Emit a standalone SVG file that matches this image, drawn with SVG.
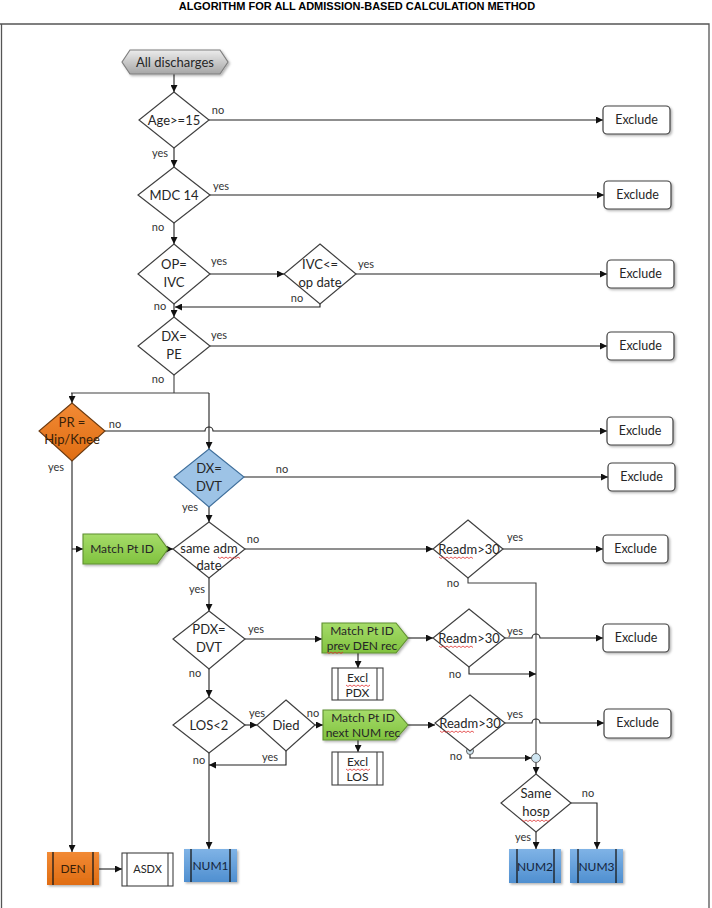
<svg xmlns="http://www.w3.org/2000/svg" width="712" height="908" viewBox="0 0 712 908">
<style>
text{font-family:Lato,"Open Sans","Liberation Sans",sans-serif;fill:#262626}
.t{font-size:13px;text-anchor:middle}
.e{font-size:12.5px;text-anchor:middle}
.m{font-size:12px;text-anchor:middle}
.lb{font-size:11px;text-anchor:middle;fill:#333}
.title{font-family:"Liberation Sans",Arial,sans-serif;font-size:11px;font-weight:bold;text-anchor:middle;fill:#000}
.dia{fill:#fff;stroke:#404040;stroke-width:1.2}
.ex{fill:#fff;stroke:#404040;stroke-width:1.2;filter:url(#sh)}
.ln{fill:none;stroke:#404040;stroke-width:1.1}
.ar{fill:none;stroke:#202020;stroke-width:1.1;marker-end:url(#ah)}
.bar{stroke:#1a1a1a;stroke-width:1.3}
.pr{fill:#fff;stroke:#404040;stroke-width:1.1}
.sq{fill:none;stroke:#e03030;stroke-width:0.8}
</style>
<defs>
<marker id="ah" viewBox="0 0 8 8" refX="8" refY="4" markerWidth="7" markerHeight="7" markerUnits="userSpaceOnUse" orient="auto">
<path d="M0,0 L8,4 L0,8 z" fill="#111"/>
</marker>
<filter id="sh" x="-20%" y="-20%" width="150%" height="160%">
<feDropShadow dx="1.5" dy="1.5" stdDeviation="1.2" flood-color="#000" flood-opacity="0.3"/>
</filter>
<linearGradient id="gGray" x1="0" y1="0" x2="0" y2="1">
<stop offset="0" stop-color="#ececec"/><stop offset="1" stop-color="#a6a6a6"/>
</linearGradient>
<linearGradient id="gGreen" x1="0" y1="0" x2="0" y2="1">
<stop offset="0" stop-color="#a6dc6a"/><stop offset="1" stop-color="#80c23e"/>
</linearGradient>
<linearGradient id="gOrange" x1="0" y1="0" x2="0" y2="1">
<stop offset="0" stop-color="#f28a35"/><stop offset="1" stop-color="#e06d12"/>
</linearGradient>
<linearGradient id="gBlue" x1="0" y1="0" x2="0" y2="1">
<stop offset="0" stop-color="#7fb3e6"/><stop offset="1" stop-color="#4f8fd0"/>
</linearGradient>
</defs>

<text class="title" x="357" y="10">ALGORITHM  FOR ALL ADMISSION-BASED CALCULATION METHOD</text>
<path d="M0,24 H709 V908 M1.5,24 V908" fill="none" stroke="#555" stroke-width="1.3"/>

<g id="connectors">
<path class="ar" d="M174,74 V92"/>
<path class="ar" d="M209,120 H603"/>
<path class="ar" d="M174,148 V167"/>
<path class="ar" d="M210,195 H604"/>
<path class="ar" d="M174,223 V244"/>
<path class="ar" d="M210,274 H284"/>
<path class="ar" d="M356,274 H607"/>
<path class="ar" d="M320,304 V307 H175"/>
<path class="ar" d="M174,304 V317"/>
<path class="ar" d="M210,346 H607"/>
<path class="ln" d="M174,375 V393 M71,393 H209"/>
<path class="ar" d="M72,393 V403"/>
<path class="ar" d="M209,393 V449"/>
<path class="ar" d="M105,431 H205 A4,4 0 0 1 213,431 H607"/>
<path class="ar" d="M244,477 H608"/>
<path class="ar" d="M72,461 V852"/>
<path class="ar" d="M209,507 V522"/>
<path class="ar" d="M72,549 H83"/>
<path class="ar" d="M168,549 H173"/>
<path class="ar" d="M245,549 H433"/>
<path class="ar" d="M503,549 H603"/>
<path class="ln" d="M468,578 V583 H536 V753.5"/>
<path class="ar" d="M209,578 V611"/>
<path class="ar" d="M245,639 H322"/>
<path class="ar" d="M358,653 V668"/>
<path class="ar" d="M408,638 H433"/>
<path class="ar" d="M505,638 H532 A4,4 0 0 1 540,638 H603"/>
<path class="ar" d="M469,667 V674 H536"/>
<path class="ar" d="M209,669 V697"/>
<path class="ar" d="M245,725 H257"/>
<path class="ar" d="M315,725 H323"/>
<path class="ar" d="M358,740 V752"/>
<path class="ar" d="M286,751 V765 H209"/>
<path class="ar" d="M408,725 H435"/>
<path class="ar" d="M505,723 H532 A4,4 0 0 1 540,723 H604"/>
<path class="ar" d="M470,754.5 V758 H531.5"/>
<path class="ar" d="M536,762.5 V774"/>
<path class="ar" d="M209,753 V849"/>
<path class="ar" d="M536,832 V849"/>
<path class="ar" d="M571,803 H597 V849"/>
<path class="ar" d="M99,869 H122"/>
<circle cx="470" cy="751" r="3.5" fill="#cfe6f2" stroke="#505050" stroke-width="0.9"/>
<circle cx="536" cy="758" r="4.5" fill="#cfe6f2" stroke="#505050" stroke-width="0.9"/>
</g>

<g id="n-all">
<polygon points="122,62 130,50 220,50 228,62 220,74 130,74" fill="url(#gGray)" stroke="#7f7f7f" stroke-width="1.2" filter="url(#sh)"/>
<text class="t" x="175" y="66.5">All discharges</text>
</g>

<g id="n-age"><polygon class="dia" points="174,92 209,120 174,148 139,120"/><text class="t" x="174" y="124.5">Age&gt;=15</text></g>
<g id="n-mdc"><polygon class="dia" points="174,167 210,195 174,223 138,195"/><text class="t" x="174" y="199.5">MDC 14</text></g>
<g id="n-op"><polygon class="dia" points="174,244 210,274 174,304 138,274"/><text class="t" x="174" y="269">OP=</text><text class="t" x="174" y="287">IVC</text></g>
<g id="n-ivc"><polygon class="dia" points="320,244 356,274 320,304 284,274"/><text class="t" x="320" y="269">IVC&lt;=</text><text class="t" x="320" y="287">op date</text></g>
<g id="n-dxpe"><polygon class="dia" points="174,317 210,346 174,375 138,346"/><text class="t" x="174" y="341">DX=</text><text class="t" x="174" y="359">PE</text></g>
<g id="n-pr"><polygon points="72,403 105,431 72,461 39,431" fill="url(#gOrange)" stroke="#6b3a10" stroke-width="1.1"/><text class="t" x="72" y="427" style="fill:#3a1f08">PR =</text><text class="t" x="72" y="444" style="fill:#3a1f08">Hip/Knee</text></g>
<g id="n-dvt"><polygon points="209,449 244,477 209,507 174,477" fill="#9dc3e6" stroke="#3f6f9c" stroke-width="1.1"/><text class="t" x="209" y="473">DX=</text><text class="t" x="209" y="491">DVT</text></g>
<g id="n-match1"><polygon points="83,534 157,534 168,549 157,564 83,564" fill="url(#gGreen)" stroke="#5f8f30" stroke-width="1.1" filter="url(#sh)"/><text class="m" x="122" y="553">Match Pt ID</text></g>
<g id="n-same"><polygon class="dia" points="209,522 245,549 209,578 173,549"/><text class="t" x="209" y="553">same adm</text><text class="t" x="209" y="570">date</text></g>
<g id="n-readm1"><polygon class="dia" points="468,520 503,549 468,578 433,549"/><text class="t" x="469" y="553.5">Readm&gt;30</text></g>
<g id="n-pdx"><polygon class="dia" points="209,611 245,639 209,669 173,639"/><text class="t" x="209" y="634">PDX=</text><text class="t" x="209" y="652">DVT</text></g>
<g id="n-match2"><polygon points="322,623 396,623 408,638 396,653 322,653" fill="url(#gGreen)" stroke="#5f8f30" stroke-width="1.1" filter="url(#sh)"/><text class="m" x="362" y="635">Match Pt ID</text><text class="m" x="362" y="650">prev DEN rec</text></g>
<g id="n-exclpdx"><rect class="pr" x="332" y="668" width="51" height="32"/><path class="ln" d="M338,668 V700 M377,668 V700"/><text class="m" x="357.5" y="682">Excl</text><text class="m" x="357.5" y="697">PDX</text></g>
<g id="n-readm2"><polygon class="dia" points="469,609 505,638 469,667 433,638"/><text class="t" x="469" y="642.5">Readm&gt;30</text></g>
<g id="n-los"><polygon class="dia" points="209,697 245,725 209,753 173,725"/><text class="t" x="209" y="729.5">LOS&lt;2</text></g>
<g id="n-died"><polygon class="dia" points="286,700 315,725 286,751 257,725"/><text class="t" x="286" y="729.5">Died</text></g>
<g id="n-match3"><polygon points="323,710 395,710 408,725 395,740 323,740" fill="url(#gGreen)" stroke="#5f8f30" stroke-width="1.1" filter="url(#sh)"/><text class="m" x="363" y="722">Match Pt ID</text><text class="m" x="363" y="737">next NUM rec</text></g>
<g id="n-exclos"><rect class="pr" x="332" y="752" width="51" height="33"/><path class="ln" d="M338,752 V785 M377,752 V785"/><text class="m" x="357.5" y="766">Excl</text><text class="m" x="357.5" y="781">LOS</text></g>
<g id="n-readm3"><polygon class="dia" points="470,695 505,723 470,751 435,723"/><text class="t" x="470" y="727.5">Readm&gt;30</text></g>
<g id="n-samehosp"><polygon class="dia" points="536,774 571,803 536,832 501,803"/><text class="t" x="536" y="798">Same</text><text class="t" x="536" y="816">hosp</text></g>

<g id="n-ex1"><rect class="ex" x="603" y="106" width="67" height="28" rx="4"/><text class="e" x="636.5" y="124">Exclude</text></g>
<g id="n-ex2"><rect class="ex" x="604" y="181" width="67" height="28" rx="4"/><text class="e" x="637.5" y="199">Exclude</text></g>
<g id="n-ex3"><rect class="ex" x="607" y="260" width="67" height="28" rx="4"/><text class="e" x="640.5" y="278">Exclude</text></g>
<g id="n-ex4"><rect class="ex" x="607" y="332" width="67" height="28" rx="4"/><text class="e" x="640.5" y="350">Exclude</text></g>
<g id="n-ex5"><rect class="ex" x="607" y="417" width="66" height="28" rx="4"/><text class="e" x="640" y="435">Exclude</text></g>
<g id="n-ex6"><rect class="ex" x="608" y="463" width="67" height="28" rx="4"/><text class="e" x="641.5" y="481">Exclude</text></g>
<g id="n-ex7"><rect class="ex" x="603" y="535" width="65" height="28" rx="4"/><text class="e" x="635.5" y="553">Exclude</text></g>
<g id="n-ex8"><rect class="ex" x="603" y="624" width="66" height="28" rx="4"/><text class="e" x="636" y="642">Exclude</text></g>
<g id="n-ex9"><rect class="ex" x="604" y="709" width="67" height="29" rx="4"/><text class="e" x="637.5" y="727">Exclude</text></g>

<g id="n-den"><rect x="47" y="852" width="52" height="33" fill="url(#gOrange)" filter="url(#sh)"/><path class="bar" d="M53,852 V885 M93,852 V885"/><text class="m" x="73" y="873" style="fill:#3a1f08">DEN</text></g>
<g id="n-asdx"><rect class="pr" x="122" y="853" width="51" height="33"/><path class="ln" d="M127,853 V886 M168,853 V886"/><text class="m" x="147.5" y="873" style="font-size:11px">ASDX</text></g>
<g id="n-num1"><rect x="184" y="849" width="53" height="33" fill="url(#gBlue)" filter="url(#sh)"/><path class="bar" d="M191,849 V882 M230,849 V882"/><text class="m" x="210.5" y="869.5" style="fill:#14243a">NUM1</text></g>
<g id="n-num2"><rect x="509" y="849" width="52" height="34" fill="url(#gBlue)" filter="url(#sh)"/><path class="bar" d="M517,849 V883 M554,849 V883"/><text class="m" x="535" y="870.5" style="fill:#14243a">NUM2</text></g>
<g id="n-num3"><rect x="570" y="849" width="53" height="34" fill="url(#gBlue)" filter="url(#sh)"/><path class="bar" d="M578,849 V883 M616,849 V883"/><text class="m" x="596.5" y="870.5" style="fill:#14243a">NUM3</text></g>

<g id="labels">
<text class="lb" x="218" y="114">no</text>
<text class="lb" x="160" y="157">yes</text>
<text class="lb" x="221" y="190">yes</text>
<text class="lb" x="158" y="231">no</text>
<text class="lb" x="219" y="265">yes</text>
<text class="lb" x="366" y="268">yes</text>
<text class="lb" x="297" y="302">no</text>
<text class="lb" x="160" y="310">no</text>
<text class="lb" x="219" y="339">yes</text>
<text class="lb" x="158" y="383">no</text>
<text class="lb" x="115" y="428">no</text>
<text class="lb" x="56" y="471">yes</text>
<text class="lb" x="282" y="473">no</text>
<text class="lb" x="190" y="511">yes</text>
<text class="lb" x="253" y="543">no</text>
<text class="lb" x="197" y="593">yes</text>
<text class="lb" x="256" y="633">yes</text>
<text class="lb" x="195" y="677">no</text>
<text class="lb" x="257" y="717">yes</text>
<text class="lb" x="313" y="717">no</text>
<text class="lb" x="270" y="761">yes</text>
<text class="lb" x="199" y="764">no</text>
<text class="lb" x="515" y="541">yes</text>
<text class="lb" x="453" y="587">no</text>
<text class="lb" x="515" y="635">yes</text>
<text class="lb" x="455" y="678">no</text>
<text class="lb" x="515" y="718">yes</text>
<text class="lb" x="456" y="760">no</text>
<text class="lb" x="588" y="797">no</text>
<text class="lb" x="523" y="841">yes</text>
</g>

<g id="spellmarks">
<path class="sq" d="M218,557 l2,1.5 l2,-1.5 l2,1.5 l2,-1.5 l2,1.5 l2,-1.5 l2,1.5 l2,-1.5 l2,1.5 l2,-1.5 l2,1.5"/>
<path class="sq" d="M439,557 l2,1.5 l2,-1.5 l2,1.5 l2,-1.5 l2,1.5 l2,-1.5 l2,1.5 l2,-1.5 l2,1.5 l2,-1.5 l2,1.5 l2,-1.5 l2,1.5 l2,-1.5 l2,1.5 l2,-1.5 l2,1.5"/>
<path class="sq" d="M439,646 l2,1.5 l2,-1.5 l2,1.5 l2,-1.5 l2,1.5 l2,-1.5 l2,1.5 l2,-1.5 l2,1.5 l2,-1.5 l2,1.5 l2,-1.5 l2,1.5 l2,-1.5 l2,1.5 l2,-1.5 l2,1.5"/>
<path class="sq" d="M440,731 l2,1.5 l2,-1.5 l2,1.5 l2,-1.5 l2,1.5 l2,-1.5 l2,1.5 l2,-1.5 l2,1.5 l2,-1.5 l2,1.5 l2,-1.5 l2,1.5 l2,-1.5 l2,1.5 l2,-1.5 l2,1.5"/>
<path class="sq" d="M327,652 l2,1.5 l2,-1.5 l2,1.5 l2,-1.5 l2,1.5 l2,-1.5 l2,1.5 l2,-1.5"/>
<path class="sq" d="M346,685 l2,1.5 l2,-1.5 l2,1.5 l2,-1.5 l2,1.5 l2,-1.5 l2,1.5 l2,-1.5 l2,1.5 l2,-1.5 l2,1.5 l2,-1.5"/>
<path class="sq" d="M346,769 l2,1.5 l2,-1.5 l2,1.5 l2,-1.5 l2,1.5 l2,-1.5 l2,1.5 l2,-1.5 l2,1.5 l2,-1.5 l2,1.5 l2,-1.5"/>
<path class="sq" d="M522,820 l2,1.5 l2,-1.5 l2,1.5 l2,-1.5 l2,1.5 l2,-1.5 l2,1.5 l2,-1.5 l2,1.5 l2,-1.5 l2,1.5 l2,-1.5 l2,1.5 l2,-1.5"/>
</g>
</svg>
